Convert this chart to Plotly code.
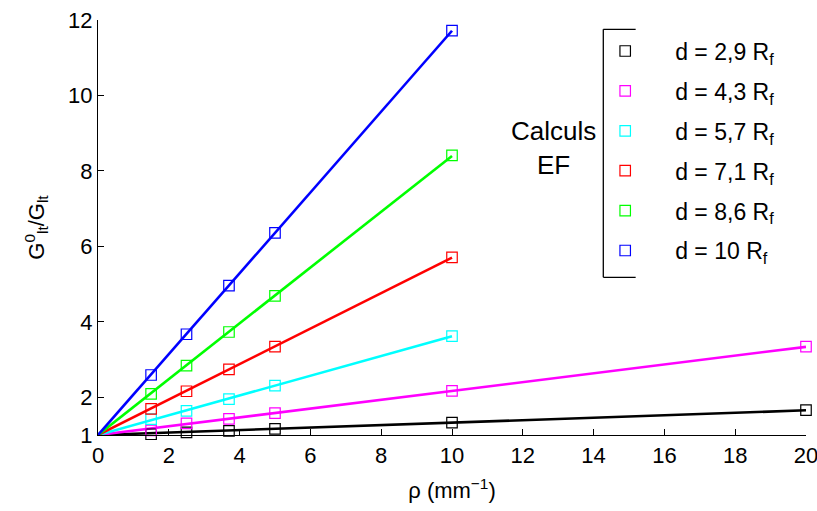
import numpy as np
import plotly.graph_objects as go

# ---- data ----
rho_short = [1.5, 2.5, 3.7, 5, 10]
rho_long = [1.5, 2.5, 3.7, 5, 10, 20]

g_d29 = [1.02, 1.07, 1.11, 1.16, 1.33, 1.66]
g_d43 = [1.12, 1.31, 1.43, 1.58, 2.17, 3.34]
g_d57 = [1.42, 1.64, 1.95, 2.31, 3.62]
g_d71 = [1.69, 2.16, 2.74, 3.34, 5.71]
g_d86 = [2.09, 2.84, 3.73, 4.69, 8.41]
g_d10 = [2.59, 3.67, 4.96, 6.36, 11.72]

labels = ["d = 2,9 R<sub>f</sub>", "d = 4,3 R<sub>f</sub>", "d = 5,7 R<sub>f</sub>",
          "d = 7,1 R<sub>f</sub>", "d = 8,6 R<sub>f</sub>", "d = 10 R<sub>f</sub>"]
colors = ["#000000", "#ff00ff", "#00ffff", "#ff0000", "#00ff00", "#0000ff"]
x_ticks = [0, 2, 4, 6, 8, 10, 12, 14, 16, 18, 20]
y_ticks = [1, 2, 4, 6, 8, 10, 12]

series = [
    (rho_long, g_d29),
    (rho_long, g_d43),
    (rho_short, g_d57),
    (rho_short, g_d71),
    (rho_short, g_d86),
    (rho_short, g_d10),
]

FONT = "Liberation Sans, Arial, Helvetica, sans-serif"
fig = go.Figure()

# fitted lines through (0, 1)
for (xs, ys), c in zip(series, colors):
    x = np.array(xs, float)
    y = np.array(ys, float) - 1.0
    k = np.sum(x * y) / np.sum(x * x)
    xl = np.array([0.0, x.max()])
    fig.add_trace(go.Scatter(x=xl, y=1.0 + k * xl, mode="lines",
                             line=dict(color=c, width=2.6),
                             showlegend=False, hoverinfo="skip", cliponaxis=False))

# data markers
for i, ((xs, ys), c, lab) in enumerate(zip(series, colors, labels)):
    fig.add_trace(go.Scatter(x=xs, y=ys, mode="markers", name=lab,
                             legendgroup=f"g{i}",
                             marker=dict(symbol="square-open", size=10.5,
                                         color=c, line=dict(color=c, width=1.2)),
                             cliponaxis=False))

# bracket around the legend
bx0, bx1 = 0.7137, 0.7594
by0, by1 = 0.380, 0.9776
line_style = dict(color="black", width=1.3)
fig.add_shape(type="line", xref="paper", yref="paper", x0=bx0, x1=bx0, y0=by0, y1=by1, line=line_style)
fig.add_shape(type="line", xref="paper", yref="paper", x0=bx0, x1=bx1, y0=by1, y1=by1, line=line_style)
fig.add_shape(type="line", xref="paper", yref="paper", x0=bx0, x1=bx1, y0=by0, y1=by0, line=line_style)

fig.add_annotation(text="Calculs<br>EF", xref="paper", yref="paper",
                   x=0.643, y=0.692, xanchor="center", yanchor="middle", showarrow=False,
                   font=dict(family=FONT, size=26, color="black"), align="center")

fig.update_layout(
    width=817, height=511,
    margin=dict(l=98, r=11, t=20, b=76),
    paper_bgcolor="white", plot_bgcolor="white",
    font=dict(family=FONT, size=22, color="black"),
    legend=dict(x=0.674, y=0.977, xanchor="left", yanchor="top",
                bgcolor="rgba(0,0,0,0)", borderwidth=0,
                font=dict(family=FONT, size=23, color="black"),
                traceorder="grouped", tracegroupgap=7, itemwidth=90),
    xaxis=dict(range=[0, 20], tickvals=x_ticks, ticks="inside", ticklen=6,
               tickcolor="black", showline=True, linecolor="black", linewidth=1.2,
               showgrid=False, zeroline=False, automargin=False,
               ticklabeloverflow="allow",
               tickfont=dict(size=22),
               title=dict(text="ρ (mm<sup>−1</sup>)", font=dict(size=22), standoff=16)),
    yaxis=dict(range=[1, 12], tickvals=y_ticks, ticks="inside", ticklen=6,
               tickcolor="black", showline=True, linecolor="black", linewidth=1.2,
               showgrid=False, zeroline=False, automargin=False,
               ticklabeloverflow="allow",
               tickfont=dict(size=22),
               title=dict(text="G<sup>0</sup><sub>lt</sub>/G<sub>lt</sub>", font=dict(size=22), standoff=17)),
)

# remove the browser's default 8px page margin so the figure fills the window exactly
fig.write_html("out.html",
               config={"displayModeBar": False},
               post_script="document.body.style.margin='0';document.body.style.overflow='hidden';")
